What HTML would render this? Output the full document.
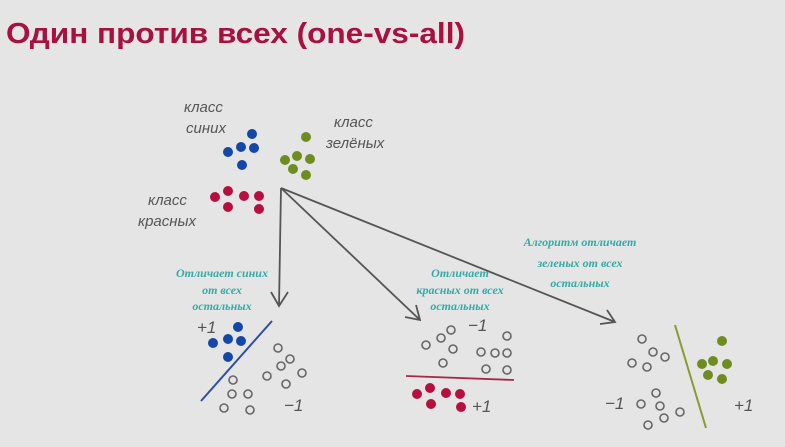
<!DOCTYPE html>
<html><head><meta charset="utf-8"><style>
html,body{margin:0;padding:0;background:#e5e5e5;}
svg{display:block}
.h{font-family:"Liberation Sans",sans-serif;font-style:italic;fill:#555;font-size:15px}
.t{font-family:"Liberation Serif",serif;font-style:italic;font-weight:bold;fill:#35aaa6;font-size:12px;text-anchor:middle}
.o{fill:none;stroke:#666;stroke-width:1.6}
.n{font-family:"Liberation Sans",sans-serif;font-style:italic;fill:#555;font-size:17px}
</style></head><body>
<svg width="785" height="447" viewBox="0 0 785 447">
<rect width="785" height="447" fill="#e5e5e5"/>
<text x="6" y="43" font-family="Liberation Sans,sans-serif" font-weight="bold" font-size="29" fill="#a8103f" textLength="459" lengthAdjust="spacingAndGlyphs">Один против всех (one-vs-all)</text>

<text class="h" x="184" y="112">класс</text>
<text class="h" x="186" y="133">синих</text>
<text class="h" x="334" y="127">класс</text>
<text class="h" x="326" y="148">зелёных</text>
<text class="h" x="148" y="205">класс</text>
<text class="h" x="138" y="226">красных</text>

<g fill="#1447a8"><circle cx="252" cy="134" r="5"/><circle cx="228" cy="152" r="5"/><circle cx="241" cy="147" r="5"/><circle cx="254" cy="148" r="5"/><circle cx="242" cy="165" r="5"/></g>
<g fill="#6f8c20"><circle cx="306" cy="137" r="5"/><circle cx="285" cy="160" r="5"/><circle cx="297" cy="156" r="5"/><circle cx="310" cy="159" r="5"/><circle cx="293" cy="169" r="5"/><circle cx="306" cy="175" r="5"/></g>
<g fill="#b5103f"><circle cx="215" cy="197" r="5"/><circle cx="228" cy="191" r="5"/><circle cx="244" cy="196" r="5"/><circle cx="259" cy="196" r="5"/><circle cx="228" cy="207" r="5"/><circle cx="259" cy="209" r="5"/></g>

<g stroke="#555" stroke-width="1.8" fill="none">
<path d="M281 188 L279 306 M271 292 L279 306 L288 292"/>
<path d="M281 188 L420 320 M405 317 L420 320 L416 305"/>
<path d="M281 188 L615 322 M600 324 L615 322 L607 310"/>
</g>

<text class="t" x="222" y="277">Отличает синих</text>
<text class="t" x="222" y="294">от всех</text>
<text class="t" x="222" y="310">остальных</text>
<text class="t" x="460" y="277">Отличает</text>
<text class="t" x="460" y="294">красных от всех</text>
<text class="t" x="460" y="310">остальных</text>
<text class="t" x="580" y="246">Алгоритм отличает</text>
<text class="t" x="580" y="267">зеленых от всех</text>
<text class="t" x="580" y="287">остальных</text>

<text class="n" x="197" y="333">+1</text>
<g fill="#1447a8"><circle cx="238" cy="327" r="5"/><circle cx="213" cy="343" r="5"/><circle cx="228" cy="339" r="5"/><circle cx="241" cy="341" r="5"/><circle cx="228" cy="357" r="5"/></g>
<line x1="201" y1="401" x2="272" y2="321" stroke="#2f4f9e" stroke-width="2"/>
<g class="o"><circle cx="278" cy="348" r="4"/><circle cx="290" cy="359" r="4"/><circle cx="281" cy="366" r="4"/><circle cx="267" cy="376" r="4"/><circle cx="302" cy="373" r="4"/><circle cx="286" cy="384" r="4"/><circle cx="233" cy="380" r="4"/><circle cx="232" cy="394" r="4"/><circle cx="248" cy="394" r="4"/><circle cx="224" cy="408" r="4"/><circle cx="250" cy="410" r="4"/></g>
<text class="n" x="284" y="411">−1</text>

<text class="n" x="468" y="331">−1</text>
<g class="o"><circle cx="426" cy="345" r="4"/><circle cx="441" cy="338" r="4"/><circle cx="451" cy="330" r="4"/><circle cx="453" cy="349" r="4"/><circle cx="443" cy="363" r="4"/><circle cx="481" cy="352" r="4"/><circle cx="495" cy="353" r="4"/><circle cx="507" cy="353" r="4"/><circle cx="507" cy="336" r="4"/><circle cx="486" cy="369" r="4"/><circle cx="507" cy="370" r="4"/></g>
<line x1="406" y1="376" x2="514" y2="380" stroke="#a8284a" stroke-width="1.8"/>
<g fill="#b5103f"><circle cx="417" cy="394" r="5"/><circle cx="430" cy="388" r="5"/><circle cx="446" cy="393" r="5"/><circle cx="460" cy="394" r="5"/><circle cx="431" cy="404" r="5"/><circle cx="461" cy="407" r="5"/></g>
<text class="n" x="472" y="412">+1</text>

<g class="o"><circle cx="642" cy="339" r="4"/><circle cx="653" cy="352" r="4"/><circle cx="665" cy="357" r="4"/><circle cx="632" cy="363" r="4"/><circle cx="647" cy="367" r="4"/><circle cx="656" cy="393" r="4"/><circle cx="641" cy="404" r="4"/><circle cx="660" cy="406" r="4"/><circle cx="680" cy="412" r="4"/><circle cx="648" cy="425" r="4"/><circle cx="664" cy="418" r="4"/></g>
<line x1="675" y1="325" x2="706" y2="428" stroke="#8a9a30" stroke-width="2"/>
<g fill="#6f8c20"><circle cx="722" cy="341" r="5"/><circle cx="702" cy="364" r="5"/><circle cx="713" cy="361" r="5"/><circle cx="727" cy="364" r="5"/><circle cx="708" cy="375" r="5"/><circle cx="722" cy="379" r="5"/></g>
<text class="n" x="605" y="409">−1</text>
<text class="n" x="734" y="411">+1</text>
</svg>
</body></html>
